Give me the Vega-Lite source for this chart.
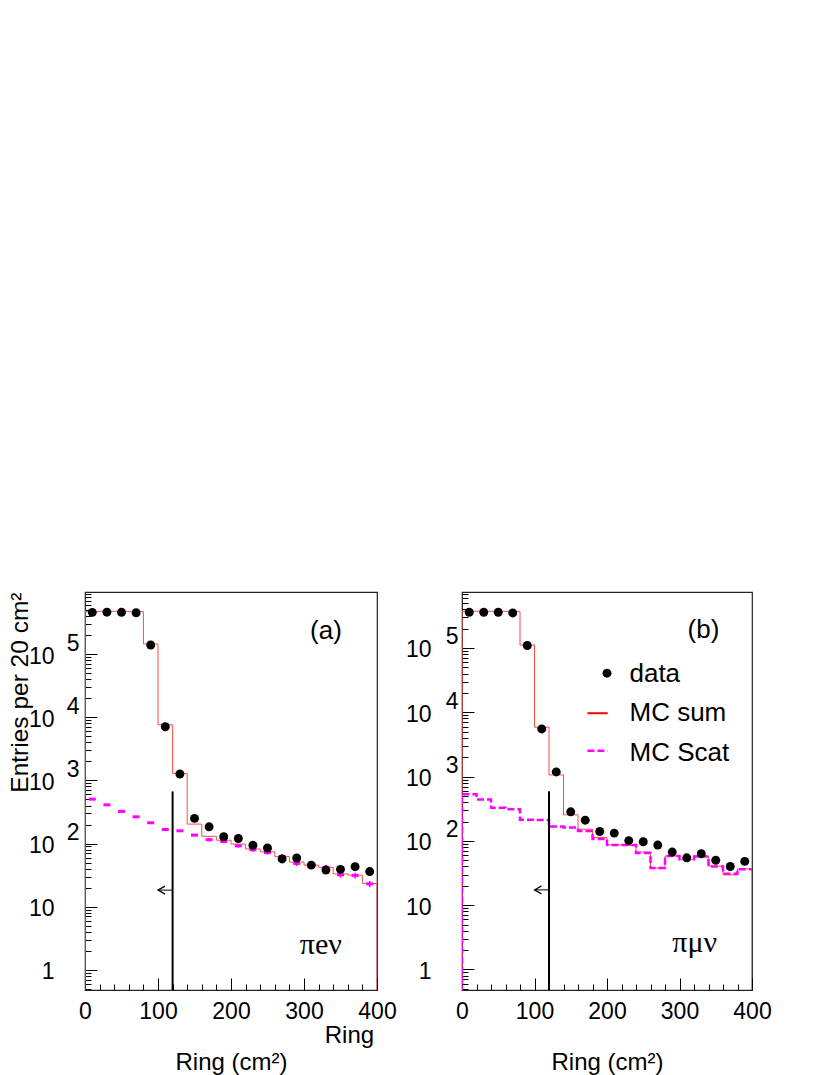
{
  "$schema": "https://vega.github.io/schema/vega-lite/v6.json",
  "padding": {"left": 6, "top": 583, "right": 0, "bottom": 0},
  "background": "white",
  "spacing": 7,
  "config": {
    "font": "Liberation Sans",
    "view": {"stroke": "#222", "strokeWidth": 1.2},
    "axis": {"domain": false, "grid": false, "labelFont": "Liberation Sans", "titleFont": "Liberation Sans", "labelColor": "black", "titleColor": "black", "tickColor": "black", "tickWidth": 1, "labelFontSize": 23, "titleFontSize": 24, "titleFontWeight": "normal"}
  },
  "datasets": {
    "left_mc": [{"x":0,"y":0.1},{"x":0,"y":470000},{"x":20,"y":475000},{"x":40,"y":475000},{"x":60,"y":470000},{"x":80,"y":144000},{"x":100,"y":7600},{"x":120,"y":1290},{"x":140,"y":203},{"x":160,"y":130},{"x":180,"y":113},{"x":200,"y":98},{"x":220,"y":82},{"x":240,"y":74},{"x":260,"y":62},{"x":280,"y":51},{"x":300,"y":45.5},{"x":320,"y":42},{"x":340,"y":33},{"x":360,"y":31.6},{"x":380,"y":23.3},{"x":400,"y":0.1}],
    "left_data": [{"x":10,"y":457000},{"x":30,"y":460000},{"x":50,"y":458000},{"x":70,"y":450000},{"x":90,"y":139000},{"x":110,"y":7060},{"x":130,"y":1260},{"x":150,"y":250},{"x":170,"y":184},{"x":190,"y":128},{"x":210,"y":120},{"x":230,"y":94},{"x":250,"y":85},{"x":270,"y":57},{"x":290,"y":59},{"x":310,"y":45.5},{"x":330,"y":38},{"x":350,"y":39},{"x":370,"y":43},{"x":390,"y":36}],
    "left_scat": [{"x":10,"y":505,"lo":490,"hi":520},{"x":30,"y":410,"lo":398,"hi":422},{"x":50,"y":323,"lo":313,"hi":333},{"x":70,"y":265,"lo":257,"hi":273},{"x":90,"y":213,"lo":207,"hi":219},{"x":110,"y":167,"lo":162,"hi":172},{"x":130,"y":159,"lo":154,"hi":164},{"x":150,"y":136,"lo":131,"hi":141},{"x":170,"y":115,"lo":108,"hi":122},{"x":190,"y":108,"lo":101,"hi":115},{"x":210,"y":92,"lo":86,"hi":98},{"x":230,"y":79.5,"lo":74,"hi":85},{"x":250,"y":72,"lo":66.5,"hi":77.5},{"x":270,"y":62.5,"lo":57.5,"hi":67.5},{"x":290,"y":48.4,"lo":44,"hi":52.8},{"x":310,"y":43.4,"lo":39.5,"hi":47.3},{"x":330,"y":41.9,"lo":37.8,"hi":46},{"x":350,"y":32,"lo":28.8,"hi":35.2},{"x":370,"y":31.3,"lo":28,"hi":34.6},{"x":390,"y":23,"lo":20.3,"hi":25.7}],
    "right_mc": [{"x":0,"y":0.1},{"x":0,"y":372000},{"x":20,"y":372000},{"x":40,"y":372000},{"x":60,"y":370000},{"x":80,"y":111000},{"x":100,"y":5850},{"x":120,"y":1060},{"x":140,"y":254},{"x":160,"y":152},{"x":180,"y":113},{"x":200,"y":87},{"x":220,"y":85},{"x":240,"y":67},{"x":260,"y":37.7},{"x":280,"y":58},{"x":300,"y":51},{"x":320,"y":58},{"x":340,"y":40.5},{"x":360,"y":29.6},{"x":380,"y":36.7},{"x":400,"y":0.1}],
    "right_scat": [{"x":0,"y":0.1},{"x":0,"y":532},{"x":20,"y":439},{"x":40,"y":326},{"x":60,"y":311},{"x":80,"y":214},{"x":100,"y":212},{"x":120,"y":167},{"x":140,"y":161},{"x":160,"y":142},{"x":180,"y":107},{"x":200,"y":86},{"x":220,"y":86},{"x":240,"y":65},{"x":260,"y":37.7},{"x":280,"y":58},{"x":300,"y":52},{"x":320,"y":57},{"x":340,"y":40},{"x":360,"y":30.7},{"x":380,"y":36.3},{"x":400,"y":36.3}],
    "right_data": [{"x":10,"y":359000},{"x":30,"y":359000},{"x":50,"y":359000},{"x":70,"y":350000},{"x":90,"y":109000},{"x":110,"y":5500},{"x":130,"y":1180},{"x":150,"y":283},{"x":170,"y":210},{"x":190,"y":140},{"x":210,"y":132},{"x":230,"y":101},{"x":250,"y":97},{"x":270,"y":86},{"x":290,"y":67},{"x":310,"y":54.5},{"x":330,"y":63},{"x":350,"y":50},{"x":370,"y":40},{"x":390,"y":48}]
  },
  "hconcat": [
    {
      "width": 292,
      "height": 398,
      "resolve": {"axis": {"y": "independent"}},
      "encoding": {
        "x": {"field": "x", "type": "quantitative", "scale": {"domain": [0, 400], "nice": false, "zero": false},
          "axis": {"values": [0,20,40,60,80,100,120,140,160,180,200,220,240,260,280,300,320,340,360,380,400], "labelExpr": "datum.value % 100 == 0 ? datum.label : ''", "tickSize": {"condition": {"test": "datum.value % 100 == 0", "value": -12}, "value": -6}, "labelPadding": 22, "labelFlush": false, "labelOverlap": false, "title": "Ring (cm²)", "titlePadding": 21}},
        "y": {"field": "y", "type": "quantitative", "scale": {"type": "log", "domain": [0.48, 960000], "nice": false}, "axis": null}
      },
      "layer": [
        {
          "data": {"name": "left_mc"},
          "mark": {"type": "line", "interpolate": "step-after", "color": "#ff4b4b", "strokeWidth": 1, "clip": true}
        },
        {
          "data": {"name": "left_scat"},
          "mark": {"type": "rule", "color": "#ff00ff", "strokeWidth": 1.5},
          "encoding": {
            "y": {"field": "lo", "type": "quantitative", "scale": {"type": "log", "domain": [0.48, 960000], "nice": false}, "axis": null},
            "y2": {"field": "hi"}
          }
        },
        {
          "data": {"name": "left_scat"},
          "mark": {"type": "point", "shape": "M-1,0H1", "filled": false, "stroke": "#ff00ff", "strokeWidth": 3, "size": 49, "opacity": 1}
        },
        {
          "data": {"name": "left_data"},
          "mark": {"type": "circle", "color": "black", "size": 80, "opacity": 1},
          "encoding": {
            "y": {"field": "y", "type": "quantitative", "scale": {"type": "log", "domain": [0.48, 960000], "nice": false},
              "axis": {"orient": "left", "values": [0.5,0.6,0.7,0.8,0.9,1,2,3,4,5,6,7,8,9,10,20,30,40,50,60,70,80,90,100,200,300,400,500,600,700,800,900,1000,2000,3000,4000,5000,6000,7000,8000,9000,10000,20000,30000,40000,50000,60000,70000,80000,90000,100000,200000,300000,400000,500000,600000,700000,800000,900000],
                "labelExpr": "(datum.value > 0.99 && abs(log(datum.value)/LN10 - round(log(datum.value)/LN10)) < 0.001) ? (datum.value < 1.5 ? '1' : (datum.value < 15 ? '10' : '10\u00a0')) : ''",
                "tickSize": {"condition": {"test": "abs(log(datum.value)/LN10 - round(log(datum.value)/LN10)) < 0.001", "value": -12}, "value": -6},
                "labelPadding": 43, "labelOffset": 2, "labelOverlap": false, "labelFlush": false,
                "title": "Entries per 20 cm²", "titleFontSize": 24.5, "titleAnchor": "end", "titlePadding": -4}}
          }
        },
        {
          "data": {"values": [{"x": 120, "y": 0.1, "y2": 669}]},
          "mark": {"type": "rule", "color": "black", "strokeWidth": 2, "clip": true},
          "encoding": {
            "y": {"field": "y", "type": "quantitative", "scale": {"type": "log", "domain": [0.48, 960000], "nice": false},
              "axis": {"orient": "left", "values": [100, 1000, 10000, 100000], "labelExpr": "'' + round(log(datum.value)/LN10)", "ticks": false, "domain": false, "labelPadding": 6, "labelOffset": -11, "labelOverlap": false, "labelFlush": false, "title": null}},
            "y2": {"field": "y2"}
          }
        },
        {
          "data": {"values": [{"x": 100, "x2": 120, "y": 18.3}]},
          "mark": {"type": "rule", "color": "black", "strokeWidth": 1},
          "encoding": {"x2": {"field": "x2"}}
        },
        {
          "data": {"values": [{"x": 100, "y": 18.3}]},
          "mark": {"type": "point", "shape": "M1.75,-1L0,0L1.75,1", "filled": false, "stroke": "black", "strokeWidth": 1.2, "size": 64, "opacity": 1}
        },
        {
          "data": {"values": [{"x": 330, "y": 234000, "t": "(a)"}]},
          "mark": {"type": "text", "font": "Liberation Sans", "fontSize": 26, "align": "center", "baseline": "middle", "color": "black"},
          "encoding": {"text": {"field": "t"}}
        },
        {
          "data": {"values": [{"x": 323, "y": 1.77, "t": "πeν"}]},
          "mark": {"type": "text", "font": "Liberation Serif", "fontSize": 30, "align": "center", "baseline": "alphabetic", "color": "black"},
          "encoding": {"text": {"field": "t"}}
        },
        {
          "data": {"values": [{"x": 396, "y": 0.0683, "t": "Ring"}]},
          "mark": {"type": "text", "font": "Liberation Sans", "fontSize": 24, "align": "right", "baseline": "alphabetic", "color": "black"},
          "encoding": {"text": {"field": "t"}}
        }
      ]
    },
    {
      "width": 290,
      "height": 398,
      "resolve": {"axis": {"y": "independent"}},
      "encoding": {
        "x": {"field": "x", "type": "quantitative", "scale": {"domain": [0, 400], "nice": false, "zero": false},
          "axis": {"values": [0,20,40,60,80,100,120,140,160,180,200,220,240,260,280,300,320,340,360,380,400], "labelExpr": "datum.value % 100 == 0 ? datum.label : ''", "tickSize": {"condition": {"test": "datum.value % 100 == 0", "value": -12}, "value": -6}, "labelPadding": 22, "labelFlush": false, "labelOverlap": false, "title": "Ring (cm²)", "titlePadding": 21}},
        "y": {"field": "y", "type": "quantitative", "scale": {"type": "log", "domain": [0.48, 741000], "nice": false}, "axis": null}
      },
      "layer": [
        {
          "data": {"name": "right_mc"},
          "mark": {"type": "line", "interpolate": "step-after", "color": "#ff4b4b", "strokeWidth": 1, "clip": true}
        },
        {
          "data": {"name": "right_scat"},
          "mark": {"type": "line", "interpolate": "step-after", "color": "#ff00ff", "strokeWidth": 2.5, "strokeDash": [7, 3], "clip": true}
        },
        {
          "data": {"name": "right_data"},
          "mark": {"type": "circle", "color": "black", "size": 80, "opacity": 1},
          "encoding": {
            "y": {"field": "y", "type": "quantitative", "scale": {"type": "log", "domain": [0.48, 741000], "nice": false},
              "axis": {"orient": "left", "values": [0.5,0.6,0.7,0.8,0.9,1,2,3,4,5,6,7,8,9,10,20,30,40,50,60,70,80,90,100,200,300,400,500,600,700,800,900,1000,2000,3000,4000,5000,6000,7000,8000,9000,10000,20000,30000,40000,50000,60000,70000,80000,90000,100000,200000,300000,400000,500000,600000,700000],
                "labelExpr": "(datum.value > 0.99 && abs(log(datum.value)/LN10 - round(log(datum.value)/LN10)) < 0.001) ? (datum.value < 1.5 ? '1' : (datum.value < 15 ? '10' : '10\u00a0')) : ''",
                "tickSize": {"condition": {"test": "abs(log(datum.value)/LN10 - round(log(datum.value)/LN10)) < 0.001", "value": -12}, "value": -6},
                "labelPadding": 43, "labelOffset": 2, "labelOverlap": false, "labelFlush": false, "title": null}}
          }
        },
        {
          "data": {"values": [{"x": 120, "y": 0.1, "y2": 593}]},
          "mark": {"type": "rule", "color": "black", "strokeWidth": 2, "clip": true},
          "encoding": {
            "y": {"field": "y", "type": "quantitative", "scale": {"type": "log", "domain": [0.48, 741000], "nice": false},
              "axis": {"orient": "left", "values": [100, 1000, 10000, 100000], "labelExpr": "'' + round(log(datum.value)/LN10)", "ticks": false, "domain": false, "labelPadding": 4, "labelOffset": -11, "labelOverlap": false, "labelFlush": false, "title": null}},
            "y2": {"field": "y2"}
          }
        },
        {
          "data": {"values": [{"x": 100, "x2": 120, "y": 17.3}]},
          "mark": {"type": "rule", "color": "black", "strokeWidth": 1},
          "encoding": {"x2": {"field": "x2"}}
        },
        {
          "data": {"values": [{"x": 100, "y": 17.3}]},
          "mark": {"type": "point", "shape": "M1.75,-1L0,0L1.75,1", "filled": false, "stroke": "black", "strokeWidth": 1.2, "size": 64, "opacity": 1}
        },
        {
          "data": {"values": [{"x": 333, "y": 190000, "t": "(b)"}]},
          "mark": {"type": "text", "font": "Liberation Sans", "fontSize": 26, "align": "center", "baseline": "middle", "color": "black"},
          "encoding": {"text": {"field": "t"}}
        },
        {
          "data": {"values": [{"x": 321, "y": 1.88, "t": "πμν"}]},
          "mark": {"type": "text", "font": "Liberation Serif", "fontSize": 30, "align": "center", "baseline": "alphabetic", "color": "black"},
          "encoding": {"text": {"field": "t"}}
        },
        {
          "data": {"values": [{"x": 200, "y": 40500}]},
          "mark": {"type": "circle", "color": "black", "size": 80, "opacity": 1}
        },
        {
          "data": {"values": [{"x": 173, "x2": 201, "y": 9660}]},
          "mark": {"type": "rule", "color": "#ff0000", "strokeWidth": 2},
          "encoding": {"x2": {"field": "x2"}}
        },
        {
          "data": {"values": [{"x": 173, "x2": 201, "y": 2530}]},
          "mark": {"type": "rule", "color": "#ff00ff", "strokeWidth": 2.5, "strokeDash": [7, 3]},
          "encoding": {"x2": {"field": "x2"}}
        },
        {
          "data": {"values": [{"x": 231, "y": 29300, "t": "data"}, {"x": 231, "y": 7260, "t": "MC sum"}, {"x": 231, "y": 1770, "t": "MC Scat"}]},
          "mark": {"type": "text", "font": "Liberation Sans", "fontSize": 26, "align": "left", "baseline": "alphabetic", "color": "black"},
          "encoding": {"text": {"field": "t"}}
        }
      ]
    }
  ]
}
